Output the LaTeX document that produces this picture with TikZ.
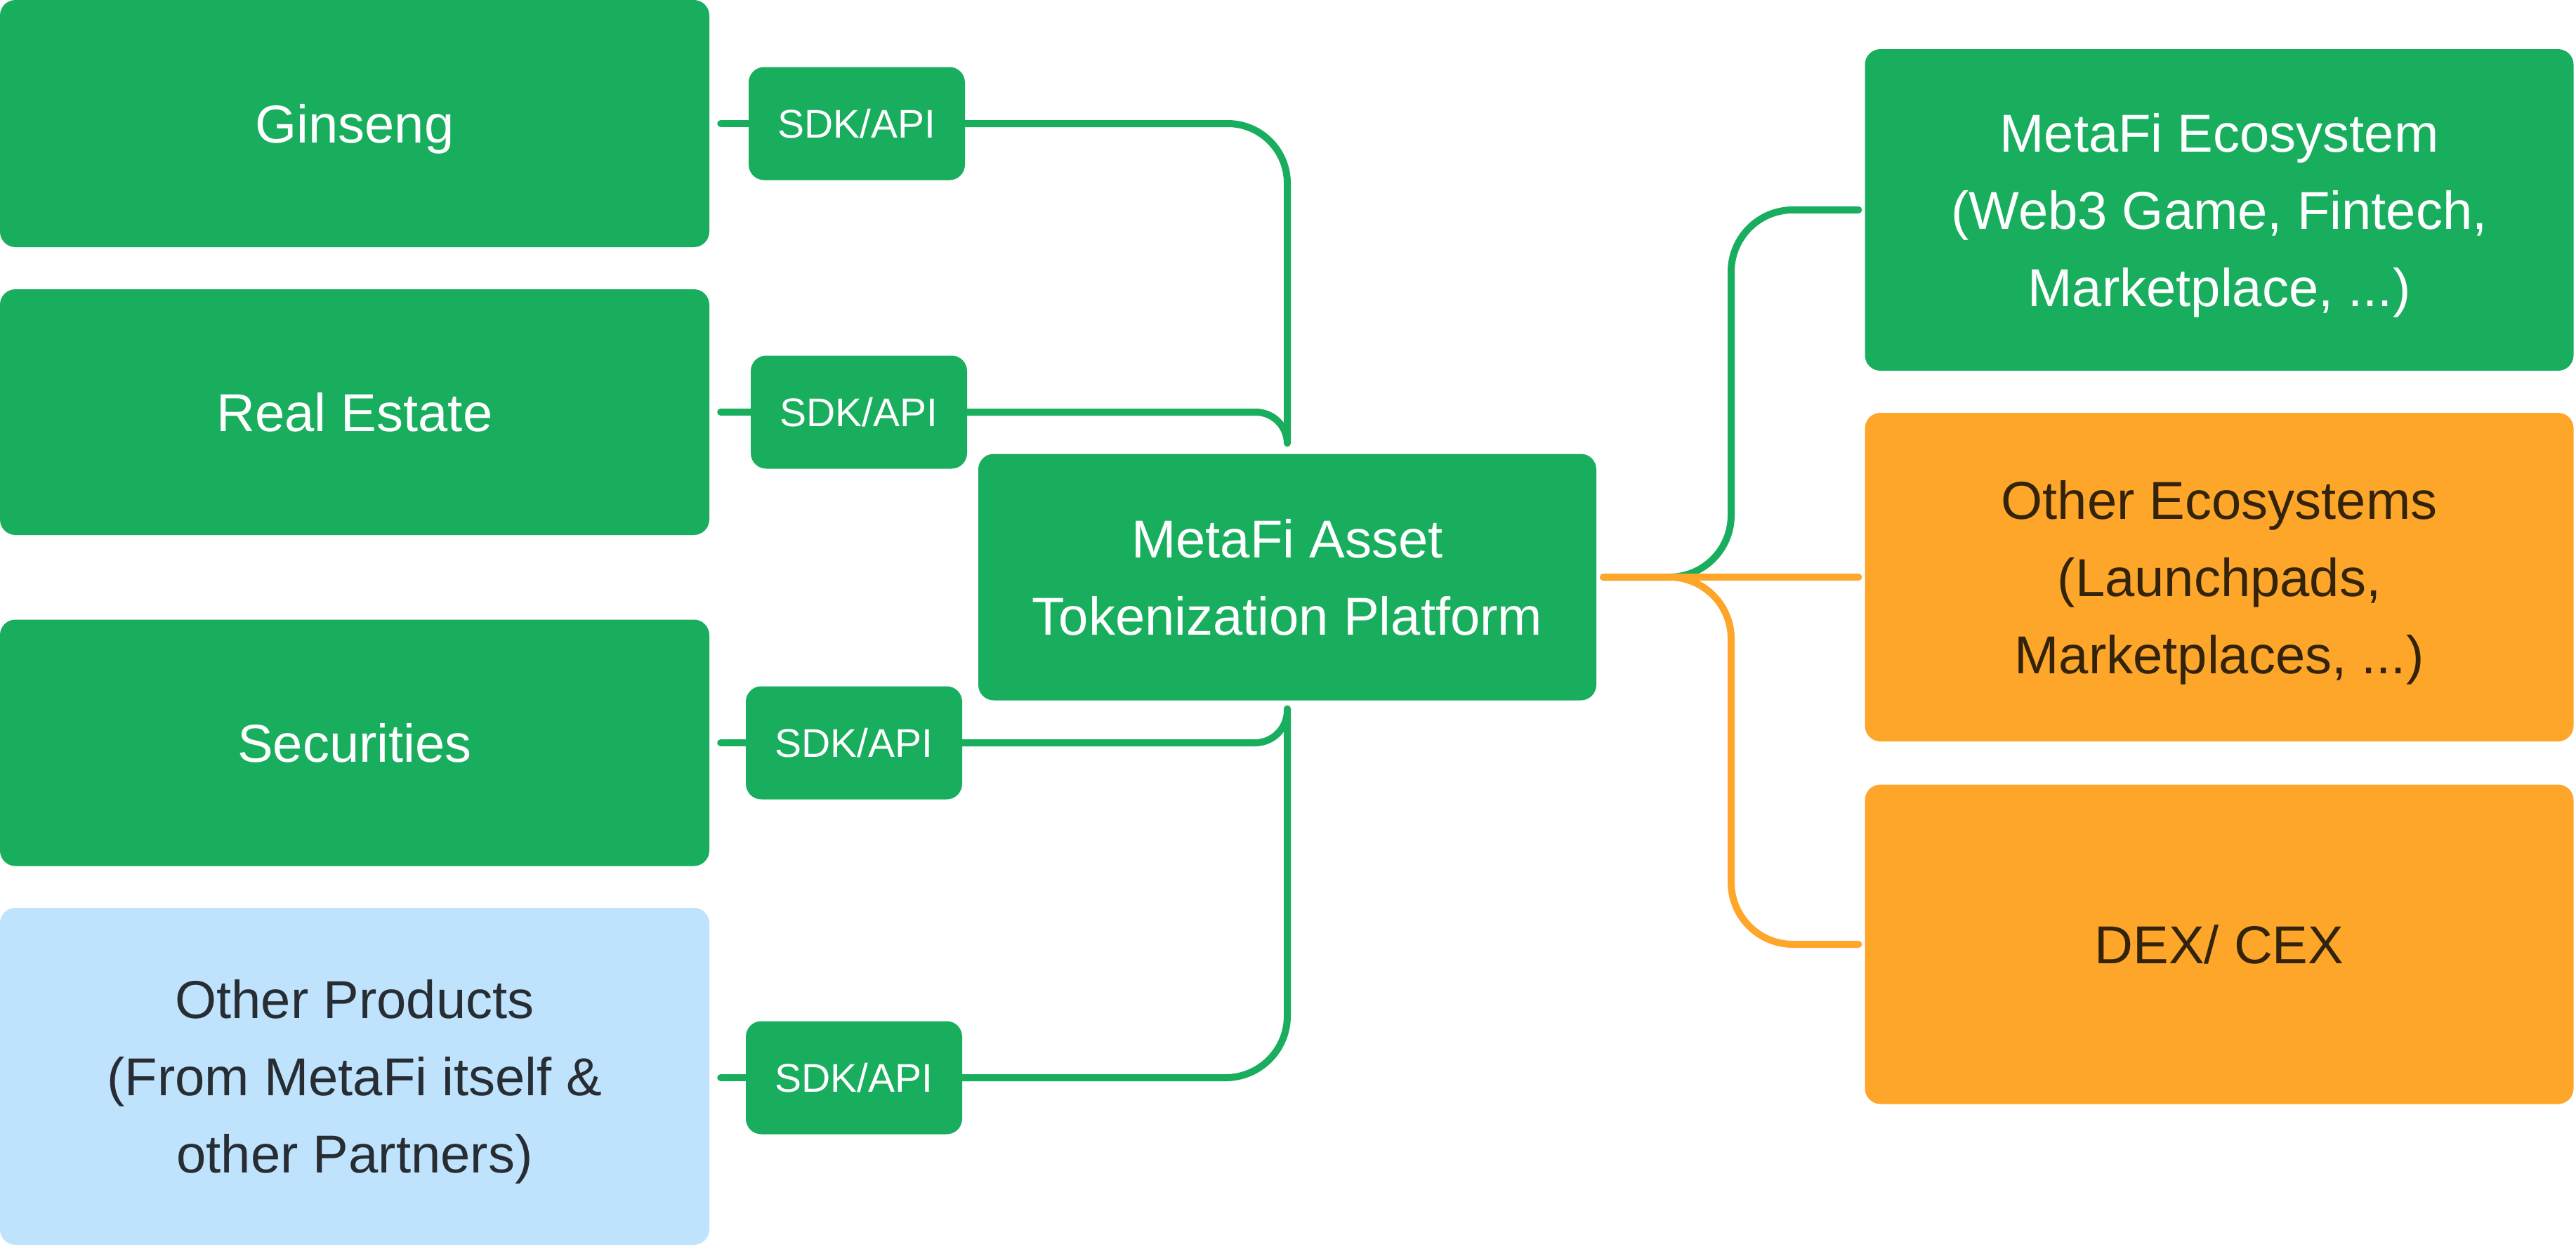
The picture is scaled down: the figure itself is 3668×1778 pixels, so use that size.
\documentclass[tikz,border=0pt]{standalone}
\usepackage{fontspec}
\setmainfont{Liberation Sans}
\usetikzlibrary{calc}
\definecolor{mgreen}{RGB}{24,174,94}
\definecolor{morange}{RGB}{253,166,42}
\definecolor{mblue}{RGB}{191,227,253}
\definecolor{darktxt}{RGB}{39,45,51}
\definecolor{browntxt}{RGB}{51,35,10}
\newcommand{\nodepth}[1]{\raisebox{0pt}[\height][0pt]{#1}}
\tikzset{
  box/.style={rounded corners=22pt, inner sep=0pt, align=center,
    font=\fontsize{76}{110}\selectfont},
  gbox/.style={box, fill=mgreen, text=white},
  obox/.style={box, fill=morange, text=browntxt},
  bbox/.style={box, fill=mblue, text=darktxt},
  sdkbox/.style={rounded corners=22pt, inner sep=0pt, fill=mgreen, text=white,
    minimum width=308pt, minimum height=161pt, font=\fontsize{57}{68}\selectfont},
  conn/.style={line width=10pt, line cap=round, draw=mgreen},
  oconn/.style={line width=10pt, line cap=round, draw=morange},
}
\begin{document}
\begin{tikzpicture}[x=1pt,y=-1pt]
\useasboundingbox (0,0) rectangle (3668,1778);
% left boxes
\node[gbox, minimum width=1010pt, minimum height=352pt] (gin) at (505,176) {\nodepth{Ginseng}};
\node[gbox, minimum width=1010pt, minimum height=350pt] (re) at (505,587) {\nodepth{Real Estate}};
\node[gbox, minimum width=1010pt, minimum height=351pt] (sec) at (505,1058) {\nodepth{Securities}};
\node[bbox, minimum width=1010pt, minimum height=480pt] (oth) at (505,1533) {Other Products\\(From MetaFi itself \&\\\nodepth{other Partners)}};
% SDK boxes
\node[sdkbox] (sdk1) at (1220,176) {\nodepth{SDK/API}};
\node[sdkbox] (sdk2) at (1223,587) {\nodepth{SDK/API}};
\node[sdkbox] (sdk3) at (1216,1058) {\nodepth{SDK/API}};
\node[sdkbox] (sdk4) at (1216,1535) {\nodepth{SDK/API}};
% center
\node[gbox, minimum width=880pt, minimum height=351pt] (plat) at (1833,822) {MetaFi Asset\\\nodepth{Tokenization Platform}};
% right boxes
\node[gbox, minimum width=1009pt, minimum height=458pt] (eco) at (3160,299) {MetaFi Ecosystem\\(Web3 Game, Fintech,\\\nodepth{Marketplace, ...)}};
\node[obox, minimum width=1009pt, minimum height=468pt] (oeco) at (3160,822) {Other Ecosystems\\(Launchpads,\\\nodepth{Marketplaces, ...)}};
\node[obox, minimum width=1009pt, minimum height=455pt] (dex) at (3160,1345) {\nodepth{DEX/ CEX}};
% coordinates
\coordinate (ttop) at ($(plat.north)+(0,-15)$);
\coordinate (tbot) at ($(plat.south)+(0,12)$);
\coordinate (bx) at (2465,822);
% stubs
\draw[conn, shorten <=16pt] (gin.east) -- (sdk1.west);
\draw[conn, shorten <=16pt] (re.east) -- (sdk2.west);
\draw[conn, shorten <=16pt] (sec.east) -- (sdk3.west);
\draw[conn, shorten <=16pt] (sdk4.west -| oth.east) -- (sdk4.west);
% left trunk
\draw[conn, rounded corners=85pt] (sdk1.east) -| (ttop);
\draw[conn, rounded corners=45pt] (sdk2.east) -| (ttop);
\draw[conn, rounded corners=46pt] (sdk3.east) -| (tbot);
\draw[conn, rounded corners=88pt] (sdk4.east) -| (tbot);
% right branches
\draw[conn, rounded corners=88pt, shorten <=10pt, shorten >=9pt] (plat.east) -| (bx |- eco.west) -- (eco.west);
\draw[oconn, rounded corners=88pt, shorten <=10pt, shorten >=9pt] (plat.east) -| (bx |- dex.west) -- (dex.west);
\draw[oconn, shorten <=10pt, shorten >=9pt] (plat.east) -- (oeco.west);
\end{tikzpicture}
\end{document}
